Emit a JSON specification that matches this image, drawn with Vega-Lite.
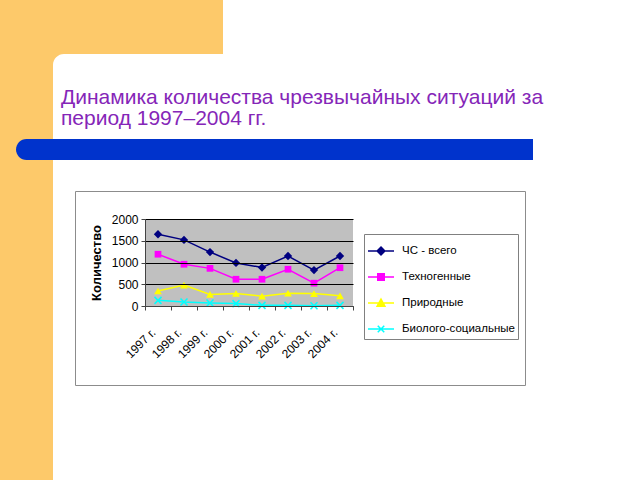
{
  "$schema": "https://vega.github.io/schema/vega-lite/v6.json",
  "background": "white",
  "padding": 0,
  "config": {"view": {"stroke": null}, "font": "Liberation Sans", "concat": {"spacing": 0}},
  "datasets": {
    "dummy": [{}],
    "ncs": [
      {"year": "1997 г.", "series": "ЧС - всего", "value": 1650},
      {"year": "1998 г.", "series": "ЧС - всего", "value": 1520},
      {"year": "1999 г.", "series": "ЧС - всего", "value": 1240},
      {"year": "2000 г.", "series": "ЧС - всего", "value": 990},
      {"year": "2001 г.", "series": "ЧС - всего", "value": 885},
      {"year": "2002 г.", "series": "ЧС - всего", "value": 1150},
      {"year": "2003 г.", "series": "ЧС - всего", "value": 825},
      {"year": "2004 г.", "series": "ЧС - всего", "value": 1150},
      {"year": "1997 г.", "series": "Техногенные", "value": 1190},
      {"year": "1998 г.", "series": "Техногенные", "value": 960},
      {"year": "1999 г.", "series": "Техногенные", "value": 865},
      {"year": "2000 г.", "series": "Техногенные", "value": 615},
      {"year": "2001 г.", "series": "Техногенные", "value": 615},
      {"year": "2002 г.", "series": "Техногенные", "value": 845},
      {"year": "2003 г.", "series": "Техногенные", "value": 525},
      {"year": "2004 г.", "series": "Техногенные", "value": 880},
      {"year": "1997 г.", "series": "Природные", "value": 345},
      {"year": "1998 г.", "series": "Природные", "value": 480},
      {"year": "1999 г.", "series": "Природные", "value": 265},
      {"year": "2000 г.", "series": "Природные", "value": 290},
      {"year": "2001 г.", "series": "Природные", "value": 225},
      {"year": "2002 г.", "series": "Природные", "value": 295},
      {"year": "2003 г.", "series": "Природные", "value": 285},
      {"year": "2004 г.", "series": "Природные", "value": 235},
      {"year": "1997 г.", "series": "Биолого-социальные", "value": 130},
      {"year": "1998 г.", "series": "Биолого-социальные", "value": 90},
      {"year": "1999 г.", "series": "Биолого-социальные", "value": 70},
      {"year": "2000 г.", "series": "Биолого-социальные", "value": 55},
      {"year": "2001 г.", "series": "Биолого-социальные", "value": 15},
      {"year": "2002 г.", "series": "Биолого-социальные", "value": 15},
      {"year": "2003 г.", "series": "Биолого-социальные", "value": 5},
      {"year": "2004 г.", "series": "Биолого-социальные", "value": 15}
    ]
  },
  "spacing": 0,
  "bounds": "full",
  "vconcat": [
    {"width": 223, "height": 54, "view": {"fill": "#FDC96A", "stroke": null}, "data": {"name": "dummy"}, "mark": {"type": "point", "opacity": 0, "size": 0}, "encoding": {}},
    {"spacing": 0, "bounds": "flush", "hconcat": [
      {"width": 53, "height": 11, "view": {"fill": "#FDC96A", "stroke": null}, "data": {"name": "dummy"}, "mark": {"type": "point", "opacity": 0, "size": 0}, "encoding": {}},
      {"width": 11, "height": 11, "data": {"name": "dummy"},
       "mark": {"type": "point", "shape": "M-1,-1H1C-0.1046,-1 -1,-0.1046 -1,1Z", "filled": true, "color": "#FDC96A", "opacity": 1, "size": 121, "strokeWidth": 0},
       "encoding": {"x": {"datum": 0, "type": "quantitative", "scale": {"domain": [-1, 1]}, "axis": null}, "y": {"datum": 0, "type": "quantitative", "scale": {"domain": [-1, 1]}, "axis": null}}}
    ]},
    {"spacing": 0, "bounds": "flush", "hconcat": [
      {"width": 53, "height": 74, "view": {"fill": "#FDC96A", "stroke": null}, "data": {"name": "dummy"}, "mark": {"type": "point", "opacity": 0, "size": 0}, "encoding": {}},
      {"width": 587, "height": 74, "data": {"name": "dummy"}, "mark": {"type": "point", "opacity": 0, "size": 0}, "encoding": {},
       "title": {"text": ["Динамика количества чрезвычайных ситуаций за", "период 1997–2004 гг."], "anchor": "start", "frame": "group", "orient": "top", "offset": -39, "dx": 8, "dy": 42, "baseline": "alphabetic", "lineHeight": 21, "fontSize": 21, "font": "Liberation Sans", "fontWeight": "normal", "color": "#8526B8"}}
    ]},
    {"spacing": 0, "bounds": "flush", "hconcat": [
      {"width": 16, "height": 21, "view": {"fill": "#FDC96A", "stroke": null}, "data": {"name": "dummy"}, "mark": {"type": "point", "opacity": 0, "size": 0}, "encoding": {}},
      {"width": 21, "height": 21, "view": {"fill": "#FDC96A", "stroke": null}, "data": {"name": "dummy"},
       "mark": {"type": "point", "shape": "M0,-1H1V1H0C-0.5523,1 -1,0.5523 -1,0C-1,-0.5523 -0.5523,-1 0,-1Z", "filled": true, "color": "#0033CC", "opacity": 1, "size": 441, "strokeWidth": 0},
       "encoding": {"x": {"datum": 0, "type": "quantitative", "scale": {"domain": [-1, 1]}, "axis": null}, "y": {"datum": 0, "type": "quantitative", "scale": {"domain": [-1, 1]}, "axis": null}}},
      {"width": 496, "height": 21, "view": {"fill": "#0033CC", "stroke": null}, "data": {"name": "dummy"}, "mark": {"type": "point", "opacity": 0, "size": 0}, "encoding": {}}
    ]},
    {"spacing": 0, "bounds": "full",
     "hconcat": [
      {"width": 53, "height": 320, "view": {"fill": "#FDC96A", "stroke": null}, "data": {"name": "dummy"}, "mark": {"type": "point", "opacity": 0, "size": 0}, "encoding": {}},
      {"spacing": 0, "bounds": "full",
       "vconcat": [
        {"width": 1, "height": 30, "data": {"name": "dummy"}, "mark": {"type": "point", "opacity": 0, "size": 0}, "encoding": {}},
        {"spacing": 0, "bounds": "flush",
         "resolve": {"scale": {"fill": "independent", "stroke": "independent", "shape": "independent"}, "legend": {"fill": "independent", "stroke": "independent", "shape": "independent"}},
         "hconcat": [
          {"width": 22, "height": 1, "data": {"name": "dummy"}, "mark": {"type": "point", "opacity": 0, "size": 0}, "encoding": {}},
          {
            "width": 450, "height": 194,
            "view": {"fill": "white", "stroke": "#8c8c8c", "strokeWidth": 1},
            "data": {"name": "ncs"},
            "encoding": {
              "x": {"field": "year", "type": "ordinal", "sort": null,
                    "scale": {"type": "band", "range": [70, 278], "paddingInner": 0, "paddingOuter": 0},
                    "axis": {"title": null, "labelAngle": -45, "labelAlign": "right", "labelBaseline": "middle", "labelPadding": 20, "labelOffset": -5, "offset": -79, "tickBand": "extent", "tickSize": 4, "domainColor": "#444", "tickColor": "#444", "labelFontSize": 12, "labelColor": "black", "grid": false, "zindex": 1}},
              "y": {"field": "value", "type": "quantitative",
                    "scale": {"domain": [0, 2000], "range": [115, 28], "nice": false},
                    "axis": {"title": "Количество", "format": "d", "offset": -70, "values": [0, 500, 1000, 1500, 2000], "grid": true, "gridColor": "black", "gridWidth": 1, "domainColor": "#444", "tickColor": "#444", "tickSize": 4, "labelFontSize": 12, "labelColor": "black", "labelPadding": 3, "titleFontWeight": "bold", "titleFontSize": 13, "titleColor": "black", "titlePadding": 8, "zindex": 1}}
            },
            "layer": [
              {"transform": [{"filter": "datum.series === 'ЧС - всего'"}],
               "mark": {"type": "bar", "color": "#C0C0C0"},
               "encoding": {"y": {"datum": 0, "type": "quantitative"}, "y2": {"datum": 2000}}},
              {"transform": [{"filter": "datum.series === 'ЧС - всего'"}],
               "mark": {"type": "line", "strokeWidth": 1.5, "color": "#000080", "zindex": 2}},
              {"transform": [{"filter": "datum.series === 'Техногенные'"}],
               "mark": {"type": "line", "strokeWidth": 1.5, "color": "#FF00FF", "zindex": 2}},
              {"transform": [{"filter": "datum.series === 'Природные'"}],
               "mark": {"type": "line", "strokeWidth": 1.5, "color": "#FFFF00", "zindex": 2}},
              {"transform": [{"filter": "datum.series === 'Биолого-социальные'"}],
               "mark": {"type": "line", "strokeWidth": 1.5, "color": "#00FFFF", "zindex": 2}},
              {"transform": [{"filter": "datum.series === 'ЧС - всего'"}],
               "mark": {"type": "point", "shape": "diamond", "filled": true, "color": "#000080", "opacity": 1, "size": 70, "zindex": 2}},
              {"transform": [{"filter": "datum.series === 'Техногенные'"}],
               "mark": {"type": "point", "shape": "square", "filled": true, "color": "#FF00FF", "opacity": 1, "size": 45, "zindex": 2}},
              {"transform": [{"filter": "datum.series === 'Природные'"}],
               "mark": {"type": "point", "shape": "triangle-up", "filled": true, "color": "#FFFF00", "opacity": 1, "size": 60, "zindex": 2}},
              {"transform": [{"filter": "datum.series === 'Биолого-социальные'"}],
               "mark": {"type": "point", "shape": "M-1,-1L1,1M-1,1L1,-1", "filled": false, "color": "#00FFFF", "strokeWidth": 1.5, "opacity": 1, "size": 49, "zindex": 2}},
              {"mark": {"type": "point", "filled": true, "opacity": 0, "size": 676, "strokeWidth": 1.5},
               "encoding": {
                 "fill": {"field": "series", "type": "nominal",
                   "scale": {"domain": ["ЧС - всего", "Техногенные", "Природные", "Биолого-социальные"], "range": ["#000080", "#FF00FF", "#FFFF00", "#00FFFF"]},
                   "legend": {"title": null, "orient": "none", "legendX": 289, "legendY": 43, "padding": 3, "rowPadding": 5, "labelOffset": 7, "labelFontSize": 11.5, "labelColor": "black", "strokeColor": "#808080", "fillColor": "white", "symbolOpacity": 1, "symbolSize": 676, "symbolStrokeWidth": 1.5, "labelLimit": 200}},
                 "stroke": {"field": "series", "type": "nominal",
                   "scale": {"domain": ["ЧС - всего", "Техногенные", "Природные", "Биолого-социальные"], "range": ["#000080", "#FF00FF", "#FFFF00", "#00FFFF"]},
                   "legend": {"title": null, "orient": "none", "legendX": 289, "legendY": 43, "padding": 3, "rowPadding": 5, "labelOffset": 7, "labelFontSize": 11.5, "labelColor": "black", "strokeColor": "#808080", "fillColor": "white", "symbolOpacity": 1, "symbolSize": 676, "symbolStrokeWidth": 1.5, "labelLimit": 200}},
                 "shape": {"field": "series", "type": "nominal",
                   "scale": {"domain": ["ЧС - всего", "Техногенные", "Природные", "Биолого-социальные"],
                             "range": ["M-1,0H1M0,-0.3L0.3,0L0,0.3L-0.3,0Z", "M-1,0H1M-0.25,-0.25H0.25V0.25H-0.25Z", "M-1,0H1M0,-0.3L0.3,0.25H-0.3Z", "M-1,0H1M-0.25,-0.25L0.25,0.25M-0.25,0.25L0.25,-0.25"]},
                   "legend": {"title": null, "orient": "none", "legendX": 289, "legendY": 43, "padding": 3, "rowPadding": 5, "labelOffset": 7, "labelFontSize": 11.5, "labelColor": "black", "strokeColor": "#808080", "fillColor": "white", "symbolOpacity": 1, "symbolSize": 676, "symbolStrokeWidth": 1.5, "labelLimit": 200}}
               }}
            ]
          }
        ]}
      ]}
    ]}
  ]
}
